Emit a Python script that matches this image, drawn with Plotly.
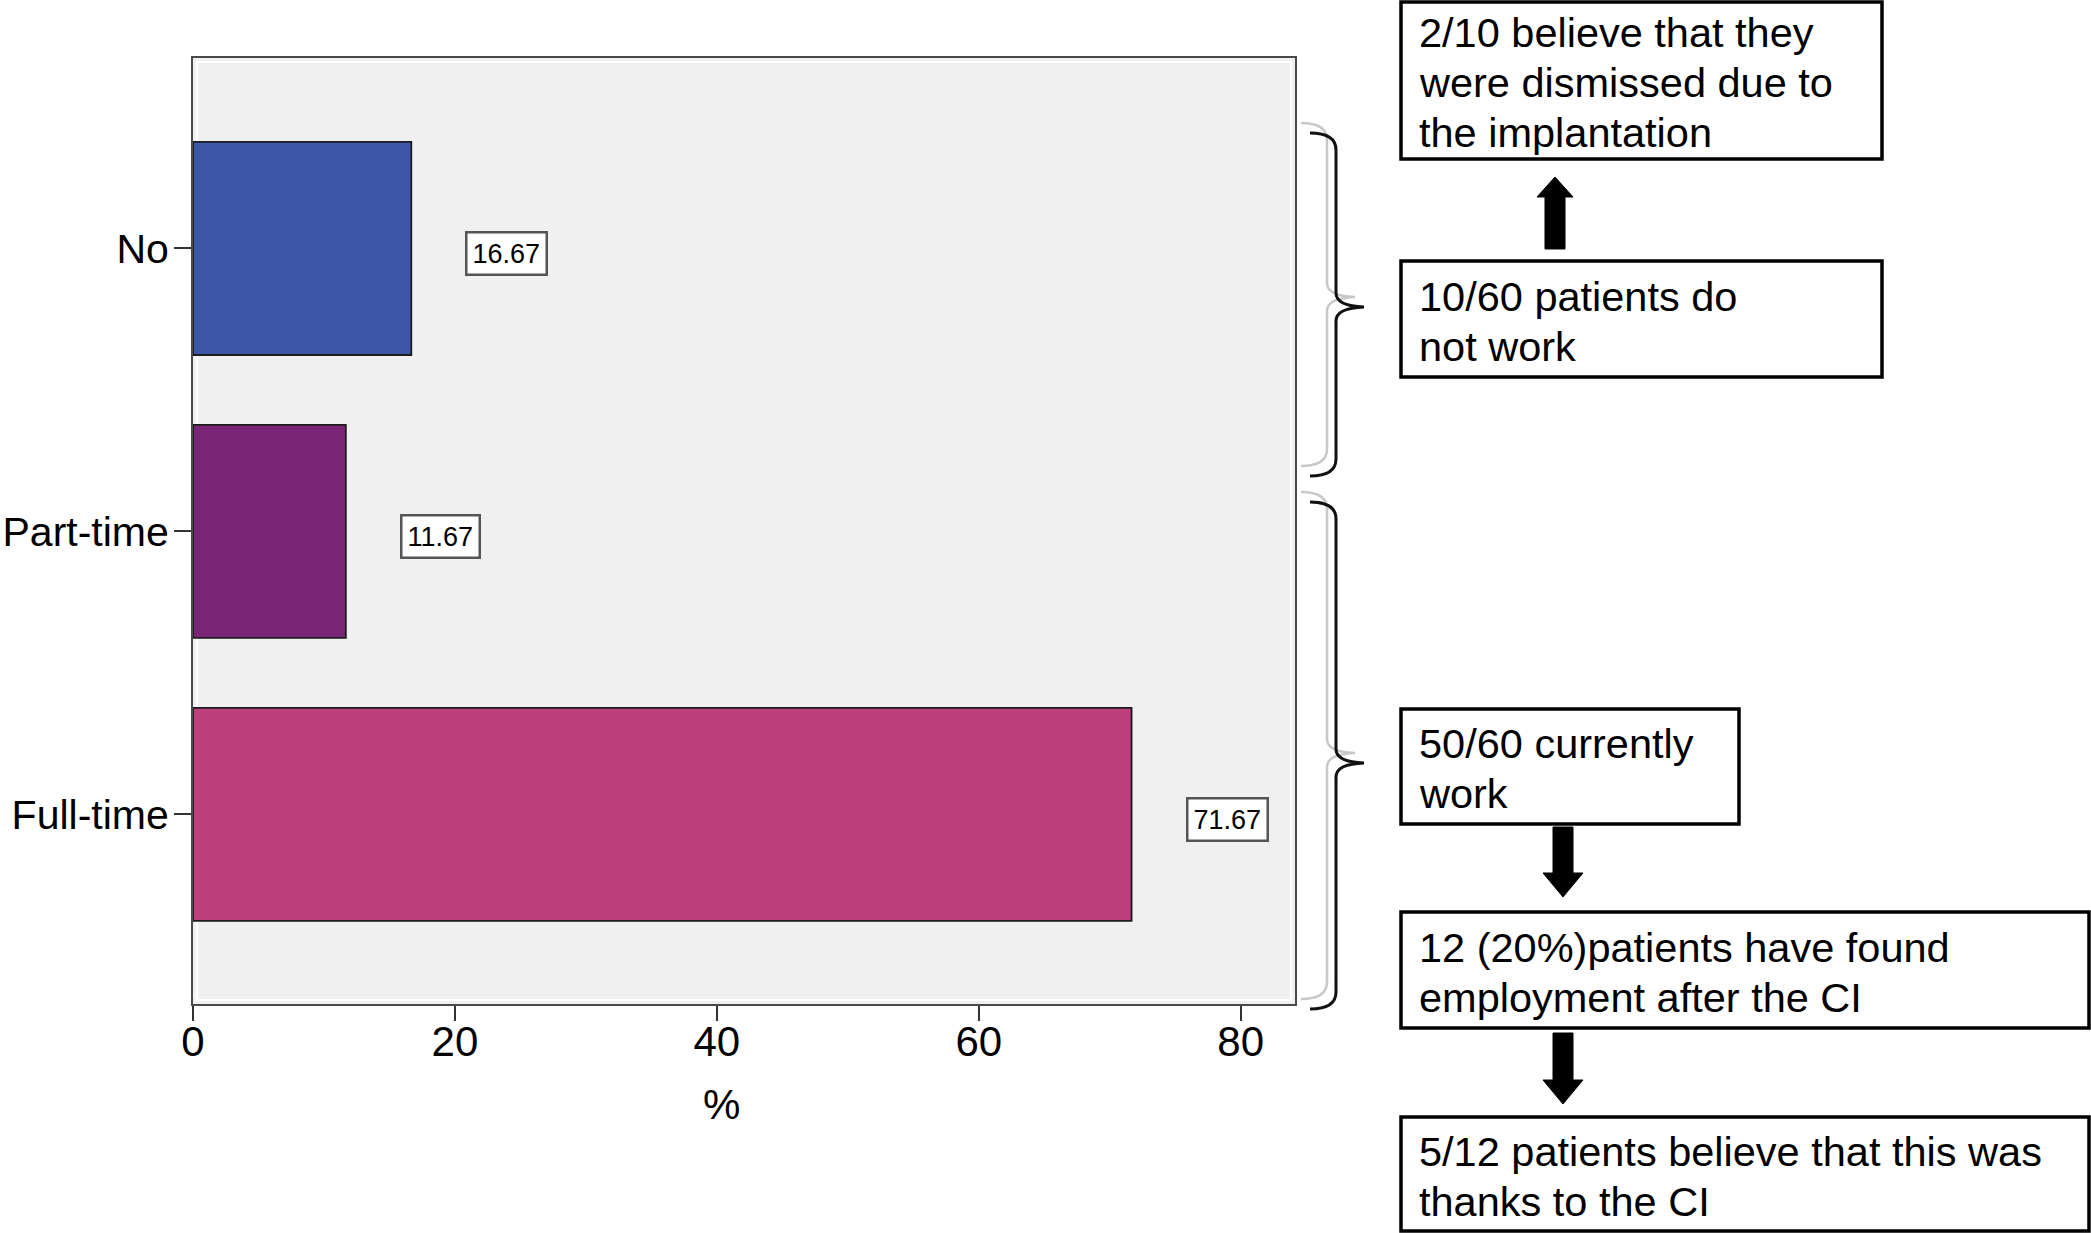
import plotly.graph_objects as go

# ---- data ----
categories = ["No", "Part-time", "Full-time"]
percent = [16.67, 11.67, 71.67]
bar_colors = ["#3E56A8", "#7A2676", "#BC3F7C"]
x_ticks = [0, 20, 40, 60, 80]

box_lines = [
    ["2/10 believe that they", "were dismissed due to", "the implantation"],
    ["10/60 patients do", "not work"],
    ["50/60 currently", "work"],
    ["12 (20%)patients have found", "employment after the CI"],
    ["5/12 patients believe that this was", "thanks to the CI"],
]

# ---- layout geometry (pixels) ----
W, H = 2091, 1233
PL, PR, PT, PB = 193, 1295, 58, 1004
FONT = "Liberation Sans, Arial, Helvetica, sans-serif"


def px(X):
    return (X - PL) / (PR - PL)


def py(Y):
    return (PB - Y) / (PB - PT)


def P(X, Y):
    return f"{px(X):.5f},{py(Y):.5f}"


fig = go.Figure()
fig.add_trace(go.Bar(
    y=categories, x=percent, orientation="h",
    marker=dict(color=bar_colors, line=dict(color="#1c1c1c", width=1.8)),
    width=0.753, hoverinfo="x+y", showlegend=False,
))

annotations = []
shapes = []

# value labels
for cat, v in zip(categories, percent):
    annotations.append(dict(
        x=v, y=cat, xref="x", yref="y", text=f"{v:.2f}", showarrow=False,
        xanchor="left", yanchor="middle", xshift=54, yshift=-5,
        font=dict(family=FONT, size=27, color="black"),
        bgcolor="white", bordercolor="#555555", borderwidth=2.5, borderpad=5,
    ))

# axis title "%"
annotations.append(dict(
    x=40, y=py(1104), xref="x", yref="paper", text="%", showarrow=False,
    xanchor="center", yanchor="middle", xshift=5,
    font=dict(family=FONT, size=42, color="black"),
))

# right-hand boxes: (left, top, right, bottom)
boxes = [
    (1401, 2, 1882, 159),
    (1401, 261, 1882, 377),
    (1401, 709, 1739, 824),
    (1401, 912, 2089, 1028),
    (1401, 1117, 2089, 1231),
]
LINE = 50
for (l, t, r, b), lines in zip(boxes, box_lines):
    shapes.append(dict(type="rect", xref="paper", yref="paper",
                       x0=px(l), x1=px(r), y0=py(b), y1=py(t),
                       fillcolor="white", line=dict(color="black", width=3.5)))
    mid = (t + b) / 2 + 2
    n = len(lines)
    for i, s in enumerate(lines):
        yc = mid + (i - (n - 1) / 2) * LINE
        annotations.append(dict(
            x=px(l + 16), y=py(yc), xref="paper", yref="paper", text=s,
            showarrow=False, xanchor="left", yanchor="middle",
            font=dict(family=FONT, size=41.5, color="black"),
        ))


def brace(x, top, tip, bottom, dx=0, dy=0):
    xl, xv, xt = x - 26 + dx, x + dx, x + 28 + dx
    t, m, b = top + dy, tip + dy, bottom + dy
    return ("M " + P(xl, t) + " Q " + P(xv, t) + " " + P(xv, t + 17)
            + " L " + P(xv, m - 14) + " Q " + P(xv, m - 1) + " " + P(xt, m)
            + " Q " + P(xv, m + 1) + " " + P(xv, m + 14)
            + " L " + P(xv, b - 17) + " Q " + P(xv, b) + " " + P(xl, b))


for (top, tip, bot) in [(133, 307, 476), (502, 763, 1009)]:
    shapes.append(dict(type="path", xref="paper", yref="paper",
                       path=brace(1336, top, tip, bot, dx=-9, dy=-10),
                       line=dict(color="#c8c8c8", width=2.5)))
    shapes.append(dict(type="path", xref="paper", yref="paper",
                       path=brace(1336, top, tip, bot),
                       line=dict(color="#111111", width=3)))


def arrow(cx, tail, tip, base, sh=10, hh=18):
    return ("M " + P(cx - sh, tail) + " L " + P(cx - sh, base) + " L " + P(cx - hh, base)
            + " L " + P(cx, tip) + " L " + P(cx + hh, base) + " L " + P(cx + sh, base)
            + " L " + P(cx + sh, tail) + " Z")


for (cx, tail, tip, base, hh) in [(1555, 249, 177, 197, 18),
                                  (1563, 827, 897, 873, 20),
                                  (1563, 1033, 1104, 1080, 20)]:
    shapes.append(dict(type="path", xref="paper", yref="paper",
                       path=arrow(cx, tail, tip, base, hh=hh),
                       fillcolor="black", line=dict(color="black", width=1)))

# inner white highlight of the frame
shapes.append(dict(type="rect", xref="paper", yref="paper",
                   x0=px(PL + 4), x1=px(PR - 4), y0=py(PB - 4), y1=py(PT + 4),
                   line=dict(color="white", width=2), layer="below"))

fig.update_layout(
    width=W, height=H,
    margin=dict(l=PL, r=W - PR, t=PT, b=H - PB, pad=0, autoexpand=False),
    paper_bgcolor="white", plot_bgcolor="#F0F0F0",
    font=dict(family=FONT, size=42, color="black"),
    annotations=annotations, shapes=shapes,
    xaxis=dict(range=[0, 84.15], tickvals=x_ticks, ticktext=[str(t) for t in x_ticks],
               showgrid=False, zeroline=False, showline=True, linecolor="#4a4a4a",
               linewidth=2, mirror=True, ticks="outside", ticklen=15, tickwidth=2,
               tickcolor="#333333", tickfont=dict(family=FONT, size=42, color="black"),
               ticklabelstandoff=-15, automargin=False, fixedrange=True),
    yaxis=dict(categoryorder="array", categoryarray=categories[::-1],
               range=[-0.67, 2.673], showgrid=False, zeroline=False, showline=True,
               linecolor="#4a4a4a", linewidth=2, mirror=True, ticks="outside",
               ticklen=17, tickwidth=2, tickcolor="#333333",
               tickfont=dict(family=FONT, size=41, color="black"),
               ticklabelstandoff=-3, automargin=False, fixedrange=True),
)

fig.write_html(
    "out.html",
    config={"displayModeBar": False},
    post_script="document.body.style.margin='0px';document.body.style.overflow='hidden';",
)
